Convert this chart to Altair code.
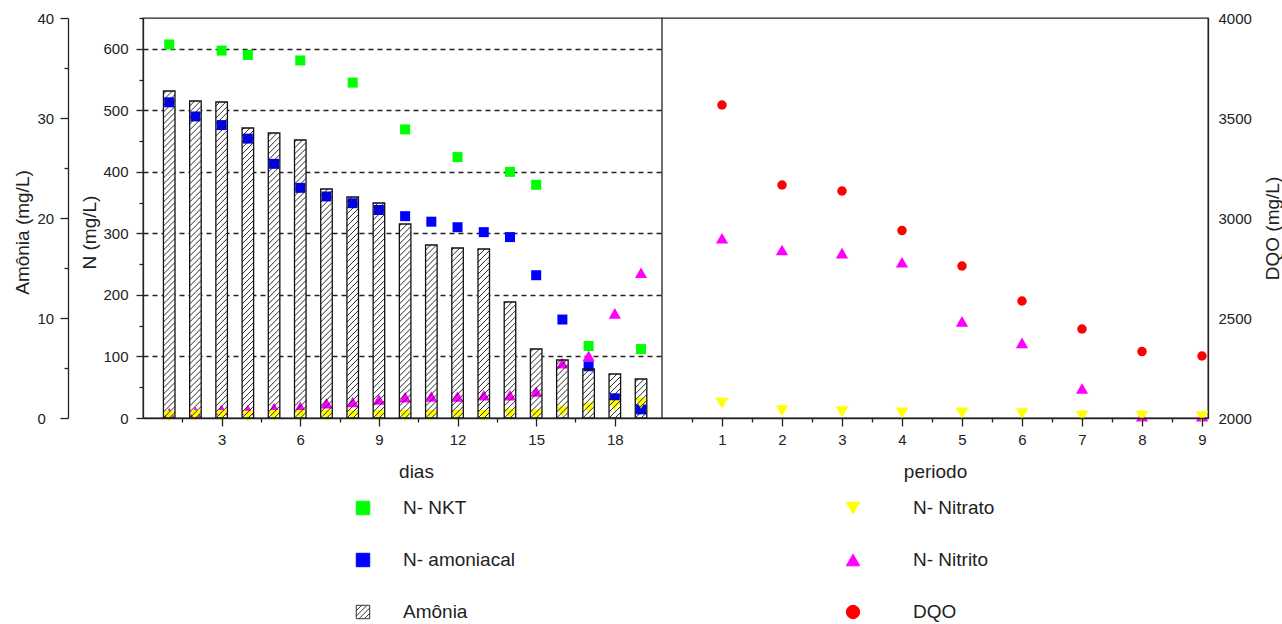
import altair as alt
import numpy as np
import pandas as pd

# ---- dados -------------------------------------------------------------
dias = list(range(1, 20))
amonia = [32.7, 31.7, 31.6, 29.0, 28.5, 27.8, 22.9, 22.1, 21.5, 19.4,
          17.3, 17.0, 16.9, 11.6, 6.9, 5.8, 4.9, 4.4, 3.9]

nkt_dias = [1, 3, 4, 6, 8, 10, 12, 14, 15, 17, 19]
nkt = [607, 597, 590, 581, 545, 469, 424, 400, 379, 117, 112]

amoniacal = [513, 490, 476, 454, 413, 374, 360, 349, 338, 328,
             319, 310, 302, 294, 232, 160, 84, 32, 14]
nitrito_dias = [8, 10, 13, 13, 16, 18, 24, 26, 30, 34,
                35, 35, 37, 37, 43, 89, 101, 170, 236]
nitrato_dias = [3, 4, 4, 3, 4, 4, 4, 4, 4, 4,
                4, 4, 4, 6, 5, 10, 16, 20, 24]

periodo = list(range(1, 10))
dqo = [3565, 3165, 3135, 2937, 2760, 2585, 2445, 2332, 2310]
nitrito_periodo = [292, 273, 268, 253, 157, 122, 48, 3, 3]
nitrato_periodo = [24, 12, 10, 8, 8, 7, 3, 3, 2]

leg_nome = ["N- NKT", "N- amoniacal", "Amônia", "N- Nitrato", "N- Nitrito", "DQO"]
leg_col = [0, 0, 0, 1, 1, 1]
leg_row = [0, 1, 2, 0, 1, 2]

# ---- geometria ---------------------------------------------------------
W, H = 1065, 400          # área total dos dois painéis
W_LEFT = 519              # largura do painel "dias"
DIAS_MAX, PER_MAX = 19.8, 9.1
HALF = 0.22               # meia largura das barras (dias)
FONT = "Liberation Sans"
INK = "#222222"

sx_d = alt.Scale(domain=[0, DIAS_MAX], range=[0, W_LEFT], nice=False, zero=False)
sx_p = alt.Scale(domain=[0, PER_MAX], range=[W_LEFT, W], nice=False, zero=False)
sy_a = alt.Scale(domain=[0, 40], nice=False)
sy_n = alt.Scale(domain=[0, 650], nice=False)
sy_q = alt.Scale(domain=[2000, 4000], nice=False, zero=False)

# ---- tabelas -----------------------------------------------------------
bars = pd.DataFrame({"dia": dias, "amonia": amonia})
bars["x0"] = bars["dia"] - HALF
bars["x1"] = bars["dia"] + HALF
bars["base"] = 0.0

df_nkt = pd.DataFrame({"dia": nkt_dias, "v": nkt})
df_amc = pd.DataFrame({"dia": dias, "v": amoniacal})
df_nti = pd.DataFrame({"dia": dias, "v": nitrito_dias})
df_nta = pd.DataFrame({"dia": dias, "v": nitrato_dias})
df_dqo = pd.DataFrame({"p": periodo, "v": dqo})
df_pti = pd.DataFrame({"p": periodo, "v": nitrito_periodo})
df_pta = pd.DataFrame({"p": periodo, "v": nitrato_periodo})

# hachura "////" dentro de cada barra, recortada ao retângulo
ppd = W_LEFT / DIAS_MAX
ppa = H / 40.0
step = 6.0
seg = []
for d, a in zip(dias, amonia):
    xl = d - HALF
    wpx = 2 * HALF * ppd
    hpx = a * ppa
    for k in range(int(np.floor(-wpx / step)), int(np.ceil(hpx / step)) + 1):
        b = k * step
        t0 = max(0.0, -b)
        t1 = min(wpx, hpx - b)
        if t1 - t0 < 0.6:
            continue
        seg.append({"xa": xl + t0 / ppd, "ya": (b + t0) / ppa,
                    "xb": xl + t1 / ppd, "yb": (b + t1) / ppa})
hatch = pd.DataFrame(seg)

legend_df = pd.DataFrame({"nome": leg_nome, "col": leg_col, "row": leg_row})

# ---- eixos -------------------------------------------------------------
ax_dias = alt.Axis(
    orient="bottom", values=[1.5 * i for i in range(1, 13)], format="d",
    labelExpr="datum.value % 3 === 0 ? datum.label : ''",
    tickSize={"condition": {"test": "datum.value % 3 === 0", "value": 8}, "value": 4},
    labelPadding=6, labelFontSize=15, grid=False, zindex=1,
    labelOverlap=False, labelFlush=False,
    title="dias", titleFontSize=19, titleX=273, titleY=59,
    titleBaseline="alphabetic", titleAlign="center",
)
# eixo "periodo": marcas inteiras com rótulo ...
ax_per = alt.Axis(
    orient="bottom", values=periodo, format="d", tickSize=8,
    labelPadding=6, labelFontSize=15, grid=False, zindex=1,
    labelOverlap=False, labelFlush=False,
    title="periodo", titleFontSize=19, titleY=59,
    titleBaseline="alphabetic", titleAlign="center",
)
# ... e marcas intermediárias sem rótulo
ax_per_minor = alt.Axis(
    orient="bottom", values=[p - 0.5 for p in periodo], tickSize=4,
    labels=False, domain=False, grid=False, zindex=1, title=None,
)
ax_amonia = alt.Axis(
    orient="left", offset=75, values=list(range(0, 41, 5)), format="d",
    labelExpr="datum.value % 10 === 0 ? datum.label : ''",
    tickSize={"condition": {"test": "datum.value % 10 === 0", "value": 8}, "value": 4},
    labelAlign="left", labelBaseline="middle", labelPadding=23, labelFontSize=15,
    labelOverlap=False, labelFlush=False, grid=False,
    title="Amônia (mg/L)", titleFontSize=19, titleAngle=270,
    titleX=-46, titleY=214, titleAlign="center", titleBaseline="middle",
)
ax_n = alt.Axis(
    orient="left", values=list(range(0, 651, 50)), format="d",
    labelExpr="datum.value % 100 === 0 ? datum.label : ''",
    tickSize={"condition": {"test": "datum.value % 100 === 0", "value": 7}, "value": 4},
    labelPadding=8, labelFontSize=15, labelOverlap=False, labelFlush=False,
    labelBaseline="middle",
    grid=True, gridColor=INK, gridWidth=1.3, gridDash=[5, 4],
    gridOpacity={"condition": {"test": "datum.value % 100 === 0 && datum.value > 0",
                               "value": 1}, "value": 0},
    title="N (mg/L)", titleFontSize=19, titleAngle=270,
    titleX=-54, titleY=214, titleAlign="center", titleBaseline="middle",
)
ax_dqo = alt.Axis(
    orient="right", values=list(range(2000, 4001, 500)), format="d",
    ticks=False, labelPadding=10, labelFontSize=15, grid=False,
    labelOverlap=False, labelFlush=False, labelBaseline="middle",
    title="DQO (mg/L)", titleFontSize=19, titleAngle=270,
    titleX=64, titleY=210, titleAlign="center", titleBaseline="middle",
)

# ---- camadas: painel "dias" -------------------------------------------
bar_fill = alt.Chart(bars).mark_rect(color="white", strokeWidth=0).encode(
    x=alt.X("x0:Q", scale=sx_d, axis=ax_dias),
    x2="x1:Q",
    y=alt.Y("amonia:Q", scale=sy_a, axis=ax_amonia),
    y2="base:Q",
)


def pts(df, xf, sx, sy, shape, color, size, axis=None):
    return alt.Chart(df).mark_point(
        filled=True, shape=shape, color=color, size=size, opacity=1, strokeWidth=0
    ).encode(
        x=alt.X(f"{xf}:Q", scale=sx, axis=None),
        y=alt.Y("v:Q", scale=sy, axis=axis),
    )


p_nkt = pts(df_nkt, "dia", sx_d, sy_n, "square", "#00ff00", 100, axis=ax_n)
p_amc = pts(df_amc, "dia", sx_d, sy_n, "square", "#0000ff", 100)
p_nti = pts(df_nti, "dia", sx_d, sy_n, "triangle-up", "#ff00ff", 150)
p_nta = pts(df_nta, "dia", sx_d, sy_n, "triangle-down", "#ffff00", 160)

hatch_lines = alt.Chart(hatch).mark_rule(color="#111111", strokeWidth=0.9).encode(
    x=alt.X("xa:Q", scale=sx_d, axis=None),
    x2="xb:Q",
    y=alt.Y("ya:Q", scale=sy_a, axis=None),
    y2="yb:Q",
)

bar_edge = alt.Chart(bars).mark_rect(
    fillOpacity=0, stroke="#111111", strokeWidth=1.3
).encode(
    x=alt.X("x0:Q", scale=sx_d, axis=None),
    x2="x1:Q",
    y=alt.Y("amonia:Q", scale=sy_a, axis=None),
    y2="base:Q",
)

# ---- camadas: painel "periodo" ----------------------------------------
p_dqo = alt.Chart(df_dqo).mark_point(
    filled=True, shape="circle", color="#ff0000", size=90, opacity=1, strokeWidth=0
).encode(
    x=alt.X("p:Q", scale=sx_p, axis=ax_per),
    y=alt.Y("v:Q", scale=sy_q, axis=ax_dqo),
)
p_pti = pts(df_pti, "p", sx_p, sy_n, "triangle-up", "#ff00ff", 150)
p_pta = pts(df_pta, "p", sx_p, sy_n, "triangle-down", "#ffff00", 160)

divider = alt.Chart(pd.DataFrame({"p": [0]})).mark_rule(
    color=INK, strokeWidth=1.3
).encode(x=alt.X("p:Q", scale=sx_p, axis=ax_per_minor))

# ---- legenda -----------------------------------------------------------
HATCH_BOX = ("M-1,-1H1V1H-1Z M-1,-0.2L-0.2,-1 M-1,0.6L0.6,-1 "
             "M-0.6,1L1,-0.6 M0.2,1L1,0.2")
leg_sym = alt.Chart(legend_df).mark_point(filled=True, opacity=1, strokeWidth=1).encode(
    x=alt.X("col:Q", scale=alt.Scale(domain=[0, 1], range=[220, 710]), axis=None),
    y=alt.Y("row:Q", scale=alt.Scale(domain=[0, 2], range=[490, 594]), axis=None),
    shape=alt.Shape("nome:N", legend=None, scale=alt.Scale(
        domain=leg_nome,
        range=["square", "square", HATCH_BOX, "triangle-down", "triangle-up", "circle"])),
    fill=alt.Fill("nome:N", legend=None, scale=alt.Scale(
        domain=leg_nome,
        range=["#00ff00", "#0000ff", "#ffffff", "#ffff00", "#ff00ff", "#ff0000"])),
    stroke=alt.Stroke("nome:N", legend=None, scale=alt.Scale(
        domain=leg_nome,
        range=["#00ff00", "#0000ff", "#333333", "#ffff00", "#ff00ff", "#ff0000"])),
    size=alt.Size("nome:O", legend=None, sort=leg_nome, scale=alt.Scale(
        domain=leg_nome, range=[180, 180, 144, 260, 250, 200])),
)
leg_txt = alt.Chart(legend_df).mark_text(
    align="left", baseline="middle", font=FONT, fontSize=19, color=INK
).encode(
    x=alt.X("col:Q", scale=alt.Scale(domain=[0, 1], range=[260, 770]), axis=None),
    y=alt.Y("row:Q", scale=alt.Scale(domain=[0, 2], range=[490, 594]), axis=None),
    text="nome:N",
)

chart = alt.layer(
    bar_fill, p_nkt, p_amc, p_nti, p_nta, hatch_lines, bar_edge,
    p_dqo, p_pti, p_pta, divider, leg_sym, leg_txt,
).resolve_scale(
    x="independent", y="independent"
).properties(
    width=W, height=H,
    autosize=alt.AutoSizeParams(type="none"),
    padding={"left": 143, "top": 18, "right": 74, "bottom": 206},
    background="white",
).configure_view(
    stroke=INK, strokeWidth=1.3
).configure_axis(
    labelFont=FONT, titleFont=FONT, labelColor=INK, titleColor=INK,
    titleFontWeight="normal", domainColor=INK, domainWidth=1.3,
    tickColor=INK, tickWidth=1.3,
)

chart.save("out.html", embed_options={"renderer": "svg", "actions": False})
